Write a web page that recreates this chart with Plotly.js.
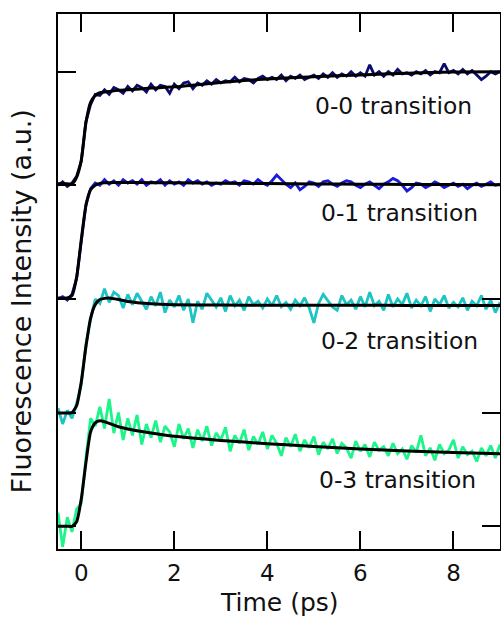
<!DOCTYPE html>
<html>
<head>
<meta charset="utf-8">
<script src="https://cdn.plot.ly/plotly-3.0.1.min.js"></script>
<style>html,body{margin:0;padding:0;background:#fff;}#chart{width:501px;height:618px;}</style>
</head>
<body>
<div id="chart"></div>
<script>
// Time axis (ps) for measured traces
const time = [-0.5,-0.4,-0.3,-0.2,-0.1,0.0,0.1,0.2,0.3,0.4,0.5,0.6,0.7,0.8,0.9,1.0,1.1,1.2,1.3,1.4,1.5,1.6,1.7,1.8,1.9,2.0,2.1,2.2,2.3,2.4,2.5,2.6,2.7,2.8,2.9,3.0,3.1,3.2,3.3,3.4,3.5,3.6,3.7,3.8,3.9,4.0,4.1,4.2,4.3,4.4,4.5,4.6,4.7,4.8,4.9,5.0,5.1,5.2,5.3,5.4,5.5,5.6,5.7,5.8,5.9,6.0,6.1,6.2,6.3,6.4,6.5,6.6,6.7,6.8,6.9,7.0,7.1,7.2,7.3,7.4,7.5,7.6,7.7,7.8,7.9,8.0,8.1,8.2,8.3,8.4,8.5,8.6,8.7,8.8,8.9,9.0];

// Measured (offset) intensities
const data00 = [3.00,3.03,2.99,3.02,3.08,3.21,3.56,3.71,3.80,3.79,3.84,3.80,3.86,3.84,3.81,3.87,3.83,3.88,3.86,3.82,3.89,3.84,3.88,3.87,3.81,3.89,3.85,3.90,3.91,3.85,3.90,3.88,3.92,3.89,3.93,3.90,3.92,3.91,3.95,3.91,3.94,3.93,3.90,3.94,3.96,3.93,3.95,3.93,3.97,3.92,3.96,3.94,3.97,3.93,3.95,3.97,3.94,3.98,3.95,3.99,3.95,3.98,3.96,4.00,3.96,3.99,3.96,4.06,3.97,4.00,3.96,4.00,3.97,4.02,3.98,3.99,3.97,4.00,3.98,4.01,3.97,4.00,3.99,4.07,3.99,4.01,3.98,4.02,3.98,4.01,3.97,3.93,3.96,4.00,3.98,4.00];
const data01 = [2.00,2.02,1.99,2.04,2.18,2.53,2.83,2.97,3.02,3.00,3.05,3.01,3.04,3.00,3.05,3.02,3.04,3.01,3.05,3.00,3.03,3.02,3.05,3.00,3.04,3.01,3.03,3.00,3.05,3.02,3.04,3.01,3.03,3.00,3.02,3.01,3.04,3.02,3.03,3.00,3.04,3.03,3.01,3.05,3.02,3.00,3.04,3.09,3.05,3.01,2.98,3.02,2.96,2.99,3.03,3.02,2.99,3.03,3.04,3.01,2.99,3.02,3.04,3.03,3.00,2.98,3.01,3.03,3.00,2.97,3.01,3.03,3.06,3.04,3.00,2.95,2.98,3.02,3.01,2.98,3.00,3.03,3.01,2.98,3.00,3.02,2.99,3.01,2.97,3.00,3.02,2.99,3.01,3.03,3.00,3.01];
const data02 = [1.04,0.90,1.02,0.95,1.08,1.25,1.60,1.82,2.00,1.96,2.09,1.97,2.06,2.03,1.92,2.04,1.95,2.05,1.98,1.91,2.02,1.94,2.06,1.88,1.99,1.93,2.03,1.90,2.00,1.79,1.98,1.91,2.05,1.99,1.93,2.01,1.89,2.03,1.94,1.99,1.90,2.02,1.95,1.98,1.92,2.00,1.94,2.03,1.93,1.97,1.91,1.99,1.94,2.01,1.92,1.79,1.96,2.04,1.98,1.93,1.90,2.03,1.95,1.99,1.91,2.02,1.93,2.06,1.94,1.98,1.90,2.04,1.93,2.00,1.95,2.05,1.92,1.99,1.94,2.02,1.89,2.00,1.95,2.03,1.92,1.97,1.93,2.01,1.90,1.98,1.94,2.03,1.91,1.99,1.88,1.97];
const data03 = [0.12,-0.18,0.08,-0.05,0.15,0.20,0.60,0.95,0.88,1.05,0.86,1.12,0.82,1.00,0.76,0.95,0.80,0.98,0.72,0.90,0.78,0.93,0.74,0.88,0.83,0.70,0.90,0.77,0.86,0.69,0.85,0.75,0.88,0.71,0.82,0.76,0.87,0.66,0.80,0.73,0.85,0.67,0.79,0.72,0.83,0.68,0.80,0.73,0.62,0.78,0.70,0.81,0.66,0.76,0.69,0.79,0.63,0.74,0.68,0.77,0.64,0.73,0.69,0.60,0.75,0.66,0.72,0.61,0.74,0.67,0.70,0.62,0.73,0.64,0.68,0.59,0.71,0.65,0.80,0.62,0.69,0.58,0.72,0.64,0.67,0.76,0.60,0.70,0.63,0.66,0.57,0.69,0.62,0.71,0.60,0.72];

// Fit curves
const fitTime = [-0.5,-0.3,-0.2,-0.1,0.0,0.1,0.2,0.3,0.4,0.5,0.6,0.8,1.0,1.5,2.0,3.0,4.0,5.0,6.0,7.0,8.0,9.0];
const fit00 = [3.013,3.013,3.013,3.07,3.22,3.55,3.73,3.79,3.815,3.82,3.825,3.835,3.84,3.855,3.866,3.905,3.936,3.955,3.971,3.985,3.997,4.0];
const fit01 = [2.008,2.008,2.03,2.19,2.52,2.82,2.96,3.0,3.017,3.022,3.023,3.024,3.024,3.023,3.022,3.018,3.015,3.012,3.01,3.008,3.006,3.004];
const fit02 = [0.997,0.997,1.0,1.06,1.27,1.58,1.83,1.95,1.995,2.005,2.008,1.995,1.978,1.958,1.95,1.946,1.945,1.944,1.944,1.943,1.943,1.943];
const fit03 = [0.0,0.0,0.0,0.04,0.24,0.56,0.83,0.91,0.928,0.92,0.905,0.875,0.855,0.82,0.791,0.755,0.727,0.702,0.68,0.663,0.65,0.639];

const labels = ["0-0 transition","0-1 transition","0-2 transition","0-3 transition"];
const labelX = [6.71,6.84,6.84,6.80];
const labelY = [3.70,2.755,1.626,0.404];
const xTicks = [0,2,4,6,8];
const yTicks = [0,1,2,3,4];
const xTitle = 'Time (ps)';
const yTitle = 'Fluorescence Intensity (a.u.)';

const colors = ["#0c0c6e","#1a1ad8","#1ec4c4","#1cf58a"];
const dataSets = [data00,data01,data02,data03];
const fitSets = [fit00,fit01,fit02,fit03];

const traces = [];
for (let i = 0; i < 4; i++) {
  traces.push({x: time, y: dataSets[i], mode: 'lines', line: {color: colors[i], width: 2.8}, hoverinfo: 'skip'});
  traces.push({x: fitTime, y: fitSets[i], mode: 'lines', line: {color: '#000', width: 3, shape: 'spline', smoothing: 0.6}, hoverinfo: 'skip'});
}

const fontFam = 'DejaVu Sans, Verdana, sans-serif';
const txt = '#111';
const annots = labels.map((t, i) => ({
  text: t, x: labelX[i], y: labelY[i], xref: 'x', yref: 'y',
  showarrow: false, xanchor: 'center', yanchor: 'middle',
  font: {size: 23.4, family: fontFam, color: txt}
}));
annots.push({text: xTitle, xref: 'paper', yref: 'paper', x: 0.5, y: -0.1008,
  xanchor: 'center', yanchor: 'middle', showarrow: false,
  font: {size: 25, family: fontFam, color: txt}});
annots.push({text: yTitle, xref: 'paper', yref: 'paper', x: -0.082, y: 0.462, textangle: -90,
  xanchor: 'center', yanchor: 'middle', showarrow: false,
  font: {size: 27, family: fontFam, color: txt}});

const layout = {
  width: 501, height: 618,
  margin: {l: 58, r: 1, t: 14, b: 68.5},
  paper_bgcolor: '#fff', plot_bgcolor: '#fff',
  showlegend: false,
  font: {family: fontFam, size: 22, color: txt},
  xaxis: {
    range: [-0.5, 9.0], tickvals: xTicks, ticktext: xTicks.map(String),
    ticks: 'inside', ticklen: 18, tickwidth: 2, tickcolor: '#000',
    showline: true, linecolor: '#000', linewidth: 2, mirror: 'ticks',
    showgrid: false, zeroline: false, ticklabelstandoff: 2,
    tickfont: {size: 23, family: fontFam, color: txt}
  },
  yaxis: {
    range: [-0.2, 4.507], tickvals: yTicks, showticklabels: false,
    ticks: 'inside', ticklen: 18, tickwidth: 2, tickcolor: '#000',
    showline: true, linecolor: '#000', linewidth: 2, mirror: 'ticks',
    showgrid: false, zeroline: false
  },
  annotations: annots
};

Plotly.newPlot('chart', traces, layout, {displayModeBar: false, staticPlot: true});
</script>
</body>
</html>
